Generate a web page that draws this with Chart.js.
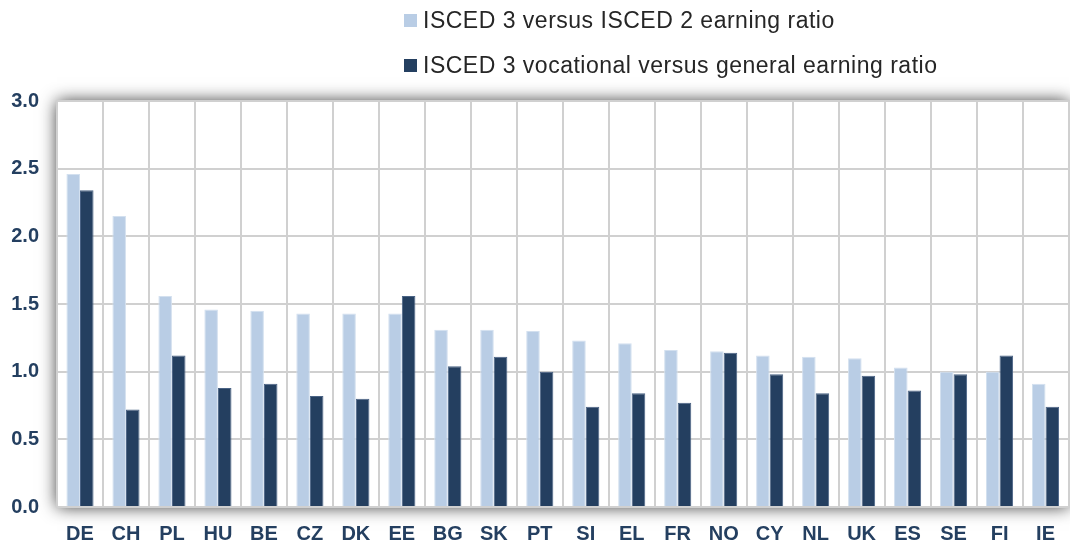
<!DOCTYPE html>
<html>
<head>
<meta charset="utf-8">
<script src="https://cdn.jsdelivr.net/npm/chart.js@4"></script>
<style>
  html, body { margin: 0; padding: 0; background: #fff; }
  #wrap { position: relative; width: 1070px; height: 545px; }
  canvas { display: block; }
  #legend { position: absolute; left: 404px; top: 6px; font-family: "Liberation Sans", Arial, sans-serif; font-size: 23px; letter-spacing: 0.5px; color: #262626; }
  #legend div { height: 45px; line-height: 28px; white-space: nowrap; }
  #legend span.box { display: inline-block; width: 13px; height: 13px; margin-right: 6px; vertical-align: 1px; }
</style>
</head>
<body>
<div id="wrap">
  <canvas id="chart" width="1070" height="545"></canvas>
  <div id="legend"></div>
</div>
<script>
const countries = ['DE', 'CH', 'PL', 'HU', 'BE', 'CZ', 'DK', 'EE', 'BG', 'SK', 'PT', 'SI', 'EL', 'FR', 'NO', 'CY', 'NL', 'UK', 'ES', 'SE', 'FI', 'IE'];
const isced3vs2 = [2.46, 2.15, 1.56, 1.46, 1.45, 1.43, 1.43, 1.43, 1.31, 1.31, 1.30, 1.23, 1.21, 1.16, 1.15, 1.12, 1.11, 1.10, 1.03, 1.00, 1.00, 0.91];
const vocVsGeneral = [2.34, 0.72, 1.12, 0.88, 0.91, 0.82, 0.80, 1.56, 1.04, 1.11, 1.00, 0.74, 0.84, 0.77, 1.14, 0.98, 0.84, 0.97, 0.86, 0.98, 1.12, 0.74];
const yTicks = [0, 0.5, 1.0, 1.5, 2.0, 2.5, 3.0];

const labelColor = '#243F60';
const gridColor = '#D0D0D0';

// white plot box with a soft grey shadow round it
const plotShadow = {
  id: 'plotShadow',
  beforeDraw(chart) {
    const { ctx, chartArea: a } = chart;
    ctx.save();
    ctx.shadowColor = 'rgba(0,0,0,0.8)';
    ctx.shadowBlur = 16;
    ctx.fillStyle = '#fff';
    ctx.fillRect(a.left, a.top, a.right - a.left, a.bottom - a.top);
    ctx.restore();
  }
};

const ctx = document.getElementById('chart').getContext('2d');
const chart = new Chart(ctx, {
  type: 'bar',
  data: {
    labels: countries,
    datasets: [
      {
        label: 'ISCED 3 versus ISCED 2 earning ratio',
        data: isced3vs2,
        backgroundColor: '#B9CDE5',
        borderColor: '#D3E0EF',
        borderWidth: 1
      },
      {
        label: 'ISCED 3 vocational versus general earning ratio',
        data: vocVsGeneral,
        backgroundColor: '#243F60',
        borderColor: '#4A6385',
        borderWidth: 1
      }
    ]
  },
  options: {
    responsive: false,
    animation: false,
    layout: { padding: { top: 101, left: 10, right: 1, bottom: 0 } },
    datasets: { bar: { categoryPercentage: 0.59, barPercentage: 1.0 } },
    scales: {
      x: {
        grid: { color: gridColor, lineWidth: 2, drawTicks: false, offset: true },
        border: { display: true, color: gridColor, width: 2 },
        ticks: { color: labelColor, padding: 15, font: { family: 'Liberation Sans', size: 20, weight: 'bold' } },
        afterFit(axis) { axis.height = 38; }
      },
      y: {
        min: 0,
        max: 3,
        afterBuildTicks(axis) { axis.ticks = yTicks.map(v => ({ value: v })); },
        grid: { color: gridColor, lineWidth: 2, drawTicks: false },
        border: { display: true, color: gridColor, width: 2 },
        ticks: {
          color: labelColor,
          padding: 18,
          font: { family: 'Liberation Sans', size: 20, weight: 'bold' },
          callback: v => Number(v).toFixed(1)
        },
        afterFit(axis) { axis.width = 47; }
      }
    },
    plugins: {
      legend: { display: false },
      tooltip: { enabled: false }
    }
  },
  plugins: [plotShadow]
});

// legend as plain text, built from the datasets
const legendEl = document.getElementById('legend');
chart.data.datasets.forEach(ds => {
  const row = document.createElement('div');
  const box = document.createElement('span');
  box.className = 'box';
  box.style.background = ds.backgroundColor;
  row.appendChild(box);
  row.appendChild(document.createTextNode(ds.label));
  legendEl.appendChild(row);
});
</script>
</body>
</html>
